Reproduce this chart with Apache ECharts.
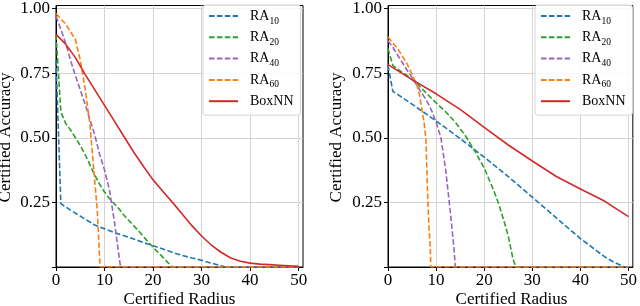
<!DOCTYPE html>
<html><head><meta charset="utf-8">
<script src="https://cdn.jsdelivr.net/npm/echarts@6/dist/echarts.min.js"></script>
<style>html,body{margin:0;padding:0;background:#fff}#c{width:640px;height:306px}</style>
</head><body><div id="c"></div><script>
// ---- data (x = certified radius, y = certified accuracy) ----
const seriesNames = ['RA10', 'RA20', 'RA40', 'RA60', 'BoxNN'];
const xTicks = [0, 10, 20, 30, 40, 50];
const yTickLabels = [0.25, 0.5, 0.75, 1.0];
const yTicks = [0, 0.25, 0.5, 0.75, 1.0];

// left panel
const L_RA10 = [[0,0.80],[1,0.245],[3,0.22],[5,0.197],[8,0.162],[10,0.148],[12,0.133],[15,0.115],[18,0.095],[20,0.082],[22,0.07],[25,0.05],[28,0.035],[30,0.026],[32,0.015],[34,0.005],[35,0],[50,0]];
const L_RA20 = [[0,0.90],[1,0.60],[2,0.555],[3,0.53],[4,0.50],[5,0.47],[6,0.435],[7,0.395],[8,0.355],[9,0.32],[10,0.29],[11,0.265],[12,0.245],[13,0.225],[14,0.20],[15,0.18],[16,0.16],[17,0.14],[18,0.118],[19,0.097],[20,0.077],[21,0.057],[22,0.038],[23,0.018],[24,0],[50,0]];
const L_RA40 = [[0,0.97],[1,0.92],[2,0.865],[3,0.80],[4,0.74],[5,0.685],[6,0.63],[7,0.57],[8,0.51],[9,0.435],[10,0.375],[11,0.30],[12,0.18],[13,0.04],[13.3,0],[50,0]];
const L_RA60 = [[0,0.98],[1,0.96],[2,0.94],[3,0.91],[4,0.88],[5,0.80],[6,0.69],[7,0.55],[8,0.33],[8.5,0.22],[9,0.03],[9.1,0],[50,0]];
const L_BoxNN = [[0,0.90],[2,0.862],[4,0.81],[6,0.745],[8,0.685],[10,0.625],[12,0.565],[14,0.505],[16,0.445],[18,0.39],[20,0.337],[22,0.293],[24,0.25],[26,0.205],[28,0.16],[30,0.12],[32,0.085],[34,0.057],[36,0.035],[38,0.022],[40,0.015],[42,0.011],[44,0.009],[46,0.007],[48,0.005],[50,0.003]];

// right panel
const R_RA10 = [[0,0.78],[1,0.68],[5,0.63],[10,0.565],[15,0.497],[20,0.425],[25,0.35],[30,0.27],[35,0.19],[40,0.11],[45,0.04],[47,0.018],[49,0.002],[50,0]];
const R_RA20 = [[0,0.845],[1,0.78],[2,0.765],[4,0.74],[6,0.71],[8,0.672],[10,0.635],[12,0.60],[14,0.56],[16,0.51],[18,0.45],[20,0.383],[22,0.295],[23,0.245],[24,0.185],[25,0.12],[26,0.03],[26.6,0],[50,0]];
const R_RA40 = [[0,0.875],[1,0.85],[2,0.82],[3,0.79],[4,0.76],[5,0.733],[6,0.703],[7,0.673],[8,0.645],[9,0.608],[10,0.56],[11,0.50],[12,0.375],[13,0.205],[13.7,0.075],[14,0],[50,0]];
const R_RA60 = [[0,0.89],[1,0.866],[2,0.845],[3,0.815],[4,0.785],[5,0.745],[6,0.705],[6.5,0.67],[7,0.615],[7.5,0.56],[7.9,0.49],[8.2,0.30],[8.5,0.16],[8.8,0.07],[8.9,0],[50,0]];
const R_BoxNN = [[0,0.783],[5,0.725],[10,0.67],[15,0.61],[20,0.54],[25,0.472],[30,0.41],[35,0.35],[40,0.302],[45,0.255],[50,0.195]];

const leftData = [L_RA10, L_RA20, L_RA40, L_RA60, L_BoxNN];
const rightData = [R_RA10, R_RA20, R_RA40, R_RA60, R_BoxNN];

// ---- styles ----
const colors = ['#1f77b4', '#2ca02c', '#9467bd', '#ff7f0e', '#d62728'];
const FONT = '"Liberation Serif", "Times New Roman", serif';
const X_MAX = 50.9, Y_MAX = 1.0115;

function xAxis(gi) {
  return {
    type: 'value', gridIndex: gi, min: 0, max: X_MAX, interval: 10,
    axisLine: { show: true, onZero: false, lineStyle: { color: '#000', width: 1 } },
    axisTick: { show: true, length: 4, customValues: xTicks, lineStyle: { color: '#000', width: 1 } },
    axisLabel: { customValues: xTicks, margin: 5, color: '#000', fontSize: 17, fontFamily: FONT,
      formatter: v => xTicks.indexOf(v) >= 0 ? String(v) : '' },
    splitLine: { show: true, lineStyle: { color: '#d3d3d3', width: 1 } }
  };
}
function yAxis(gi) {
  return {
    type: 'value', gridIndex: gi, min: 0, max: Y_MAX, interval: 0.25,
    axisLine: { show: true, onZero: false, lineStyle: { color: '#000', width: 1 } },
    axisTick: { show: true, length: 4, customValues: yTicks, lineStyle: { color: '#000', width: 1 } },
    axisLabel: { customValues: yTickLabels, margin: 6, color: '#000', fontSize: 17, fontFamily: FONT,
      formatter: v => (v > 0.01 && v < 1.005) ? v.toFixed(2) : '' },
    splitLine: { show: true, lineStyle: { color: '#d3d3d3', width: 1 } }
  };
}
function legend(left) {
  return {
    orient: 'vertical', left: left, top: 5,
    data: seriesNames, itemWidth: 29, itemHeight: 14, itemGap: 4.3,
    padding: [4, 7, 7, 5],
    backgroundColor: 'rgba(255,255,255,0.85)', borderColor: '#d6d6d6', borderWidth: 1, borderRadius: 3,
    itemStyle: { opacity: 0 },
    formatter: n => n === 'BoxNN' ? '{g|}{m|BoxNN}' : '{g|}{m|RA}{s|' + n.slice(2) + '}',
    textStyle: {
      color: '#000', fontFamily: FONT, fontSize: 14,
      rich: {
        g: { width: 7, fontSize: 14, lineHeight: 20 },
        m: { fontSize: 14, lineHeight: 20, fontFamily: FONT, color: '#000' },
        s: { fontSize: 9.5, lineHeight: 10, verticalAlign: 'bottom', fontFamily: FONT, color: '#000' }
      }
    }
  };
}
function mkSeries(dataSets, gi) {
  return dataSets.map((d, i) => ({
    name: seriesNames[i], type: 'line', xAxisIndex: gi, yAxisIndex: gi,
    data: d, symbol: 'none', smooth: false, animation: false, clip: true,
    itemStyle: { color: colors[i] },
    lineStyle: { color: colors[i], width: 1.6, type: i < 4 ? [5.5, 2.4] : 'solid' }
  }));
}
function txt(x, y, s, rot) {
  return { type: 'text', x: x, y: y, rotation: rot || 0, silent: true,
    style: { text: s, fontSize: 17, fontFamily: FONT, fill: '#000',
      align: 'center', verticalAlign: 'middle', textAlign: 'center', textVerticalAlign: 'middle' } };
}

const chart = echarts.init(document.getElementById('c'), null, { renderer: 'canvas' });
chart.setOption({
  animation: false,
  backgroundColor: '#fff',
  grid: [
    { left: 56, top: 4, width: 247, height: 263, show: true, borderColor: '#000', borderWidth: 1, backgroundColor: 'transparent' },
    { left: 388, top: 4, width: 247, height: 263, show: true, borderColor: '#000', borderWidth: 1, backgroundColor: 'transparent' }
  ],
  xAxis: [xAxis(0), xAxis(1)],
  yAxis: [yAxis(0), yAxis(1)],
  legend: [legend(203), legend(535)],
  series: mkSeries(leftData, 0).concat(mkSeries(rightData, 1)),
  graphic: [
    txt(6, 137.5, 'Certified Accuracy', Math.PI / 2),
    txt(337, 137.5, 'Certified Accuracy', Math.PI / 2),
    txt(179.5, 299.5, 'Certified Radius'),
    txt(511.5, 299.5, 'Certified Radius')
  ]
});
</script></body></html>
